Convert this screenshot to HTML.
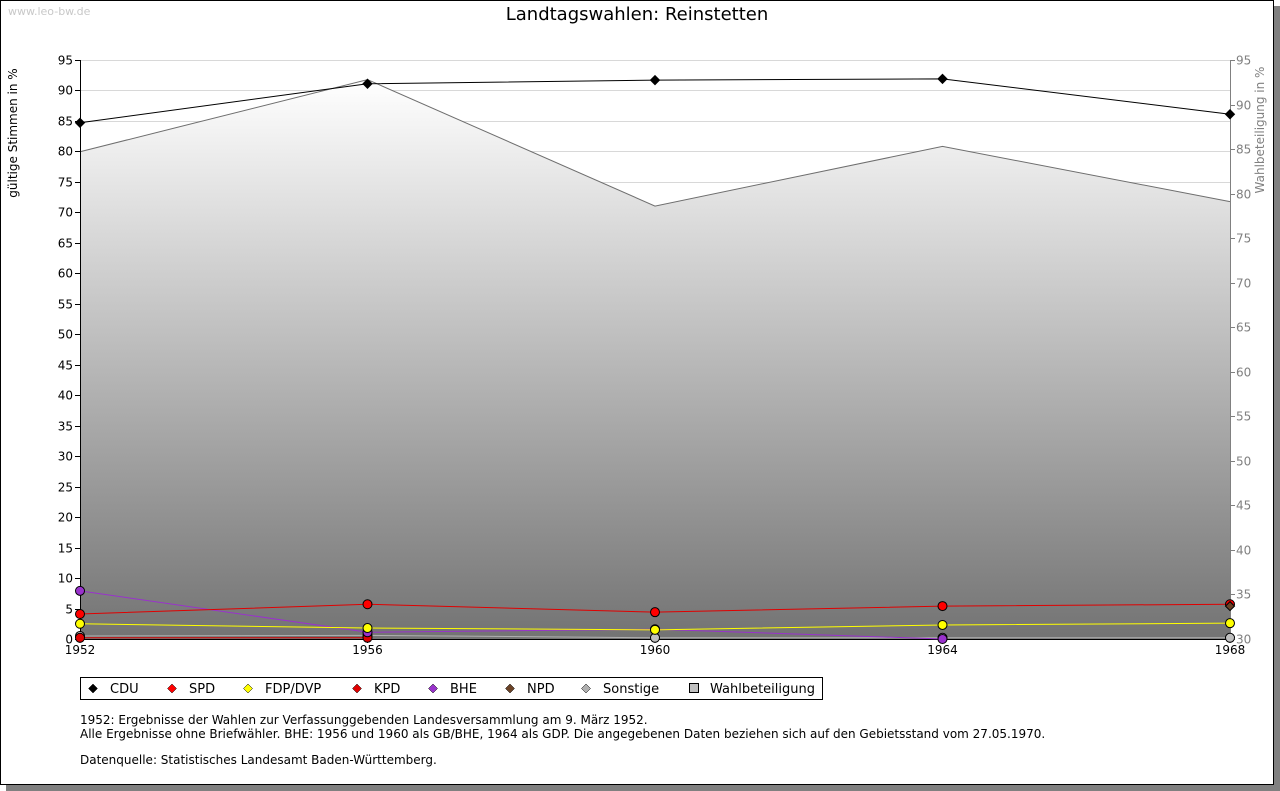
<!DOCTYPE html>
<html><head><meta charset="utf-8"><style>
body{margin:0;background:#fff;font-family:"Liberation Sans","DejaVu Sans",sans-serif;}
svg{display:block}
</style></head><body>
<svg id="c" width="1280" height="791" xmlns="http://www.w3.org/2000/svg" font-family="DejaVu Sans, Liberation Sans, sans-serif">
<defs>
<linearGradient id="g" x1="0" y1="0" x2="0" y2="1"><stop offset="0" stop-color="#ffffff"/><stop offset="1" stop-color="#737373"/></linearGradient>
</defs>
<rect x="6" y="6" width="1274" height="785" fill="#808080"/>
<rect x="0.5" y="0.5" width="1273" height="784" fill="#fff" stroke="#000"/>
<text x="8" y="15" font-size="11" fill="#c8c8c8">www.leo-bw.de</text>
<text x="637" y="20" font-size="18" text-anchor="middle">Landtagswahlen: Reinstetten</text>
<text transform="translate(17,133) rotate(-90)" font-size="12" text-anchor="middle">gültige Stimmen in %</text>
<text transform="translate(1264,130) rotate(-90)" font-size="12" text-anchor="middle" fill="#808080">Wahlbeteiligung in %</text>
<g id="grid"></g><g id="area"></g><g id="axes"></g><g id="series"></g>
<g>
<rect x="80.5" y="677.5" width="742" height="22" fill="#fff" stroke="#000"/>
<g id="leg"></g></g>
<text x="80" y="724" font-size="12">1952: Ergebnisse der Wahlen zur Verfassunggebenden Landesversammlung am 9. März 1952.</text>
<text x="80" y="738" font-size="12">Alle Ergebnisse ohne Briefwähler. BHE: 1956 und 1960 als GB/BHE, 1964 als GDP. Die angegebenen Daten beziehen sich auf den Gebietsstand vom 27.05.1970.</text>
<text x="80" y="764" font-size="12">Datenquelle: Statistisches Landesamt Baden-Württemberg.</text>
</svg>
<script>
const years=[1952,1956,1960,1964,1968];
const cdu=[84.7,91.1,91.7,91.9,86.1];
const spd=[4.1,5.7,4.4,5.4,5.7];
const fdp=[2.5,1.8,1.5,2.3,2.6];
const kpd=[0.2,0.2,null,null,null];
const bhe=[7.9,1.1,1.6,0,null];
const npd=[null,null,null,null,5.4];
const sonst=[0.5,0.6,0.2,0.2,0.2];
const turnout=[84.7,92.8,78.6,85.3,79.1];
const leftTicks=[0,5,10,15,20,25,30,35,40,45,50,55,60,65,70,75,80,85,90,95];
const rightTicks=[30,35,40,45,50,55,60,65,70,75,80,85,90,95];
const NS='http://www.w3.org/2000/svg';
const X0=80,X1=1230,YB=639,YT=60;
const x=v=>X0+(v-1952)/(1968-1952)*(X1-X0);
const y=v=>YB-v/95*(YB-YT);
const y2=v=>YB-(v-30)/65*(YB-YT);
function mk(t,a,p){const e=document.createElementNS(NS,t);for(const k in a)e.setAttribute(k,a[k]);p.appendChild(e);return e;}
const grid=document.getElementById('grid'),axes=document.getElementById('axes'),area=document.getElementById('area'),ser=document.getElementById('series');
leftTicks.forEach(t=>{const yy=Math.round(y(t))+0.5;
 const l=mk('line',{x1:X0,x2:X1,y1:yy,y2:yy,stroke:'#d8d8d8'},grid);
 
 
 mk('line',{x1:X0-5,x2:X0,y1:yy,y2:yy,stroke:'#000'},axes);
 const tx=mk('text',{x:X0-7,y:yy+4,'font-size':12,'text-anchor':'end'},axes);tx.textContent=t;
 
 });
rightTicks.forEach(t=>{const yy=Math.round(y2(t))+0.5;
 mk('line',{x1:X1,x2:X1+5,y1:yy,y2:yy,stroke:'#808080'},axes);
 const tx=mk('text',{x:X1+6,y:yy+4,'font-size':12,fill:'#808080'},axes);tx.textContent=t;
 
 });
let d='M'+x(years[0])+','+YB;years.forEach((yr,i)=>d+=' L'+x(yr)+','+y2(turnout[i]));d+=' L'+x(years[4])+','+YB+'Z';
const ar=mk('path',{d:d,fill:'url(#g)'},area);


const tl=mk('polyline',{points:years.map((yr,i)=>x(yr)+','+y2(turnout[i])).join(' '),fill:'none',stroke:'#6e6e6e'},area);


mk('line',{x1:X0+.5,x2:X0+.5,y1:YT,y2:YB,stroke:'#000'},axes);
mk('line',{x1:X1+.5,x2:X1+.5,y1:YT,y2:YB,stroke:'#808080'},axes);
mk('line',{x1:X0,x2:X1,y1:YB+.5,y2:YB+.5,stroke:'#000'},axes);
years.forEach(yr=>{mk('line',{x1:x(yr),x2:x(yr),y1:YB,y2:YB+4,stroke:'#000'},axes);
 const tx=mk('text',{x:x(yr),y:YB+15,'font-size':12,'text-anchor':'middle'},axes);tx.textContent=yr;
 
 });
function diamond(cx,cy,fill,p){return mk('path',{d:`M${cx-4.5},${cy} L${cx},${cy-4.5} L${cx+4.5},${cy} L${cx},${cy+4.5}Z`,fill:fill,stroke:'#000','stroke-width':1},p);}
function circ(cx,cy,fill,p){return mk('circle',{cx:cx,cy:cy,r:4.5,fill:fill,stroke:'#000'},p);}
const series=[['sonstige',sonst,'#c0c0c0','#b0b0b0'],['kpd',kpd,'#e00000','#d00000'],['bhe',bhe,'#9932cc','#9932cc'],['fdp',fdp,'#ffff00','#ffff00'],['spd',spd,'#ff0000','#e00000'],['npd',npd,'#6b4226','#6b4226'],['cdu',cdu,'#000','#000']];
series.forEach(([n,vals,f,s])=>{
 const g=mk('g',{},ser);
 
 
 const pts=years.map((yr,i)=>vals[i]==null?null:[x(yr),y(vals[i])]).filter(p=>p);
 if(pts.length>1)mk('polyline',{points:pts.map(p=>p.join(',')).join(' '),fill:'none',stroke:s},g);
 pts.forEach(p=>{const m=(n==='cdu'||n==='npd')?diamond(p[0],p[1],f,g):circ(p[0],p[1],f,g);
  
  });
});
const leg=document.getElementById('leg');
const items=[['CDU','#000',93],['SPD','#ff0000',172],['FDP/DVP','#ffff00',248],['KPD','#e00000',357],['BHE','#9932cc',433],['NPD','#6b4226',510],['Sonstige','#b0b0b0',586]];
items.forEach(([t,c,lx])=>{const m=diamond(lx,688.5,c,leg);m.setAttribute('stroke-width',0.5);
 const tx=mk('text',{x:lx+17,y:693,'font-size':13},leg);tx.textContent=t;
 
 });
mk('rect',{x:689.5,y:683.5,width:9,height:9,fill:'#c0c0c0',stroke:'#000'},leg);
const wt=mk('text',{x:710,y:693,'font-size':13},leg);wt.textContent='Wahlbeteiligung';


</script>
</body></html>
